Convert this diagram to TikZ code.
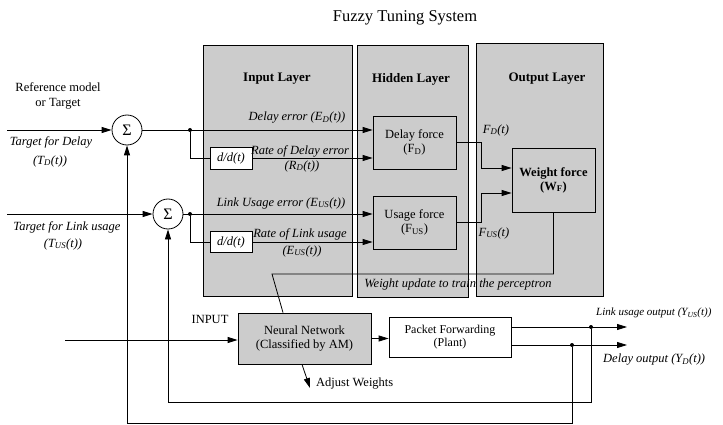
\documentclass[tikz,border=0pt]{standalone}
\usepackage{fontspec}
\setmainfont{Liberation Serif}
\usetikzlibrary{arrows.meta}
\begin{document}
\begin{tikzpicture}[x=1pt,y=-1pt,
  every node/.style={font=\fontsize{12.5}{14}\selectfont, inner sep=0pt},
  panel/.style={draw=black, line width=0.8pt, fill=black!20},
  fbox/.style={draw, line width=0.8pt, fill=black!20, align=center},
  wbox/.style={draw, line width=0.8pt, fill=white, align=center},
  sumn/.style={draw, circle, line width=0.8pt, fill=white, minimum size=30pt, font=\fontsize{16}{16}\selectfont},
  conn/.style={line width=0.8pt},
  arr/.style={line width=0.8pt, -{Triangle[length=10pt,width=6pt]}},
  lbl/.style={font=\fontsize{12.5}{14}\selectfont\itshape},
  ltitle/.style={font=\fontsize{13}{15}\selectfont\bfseries},
  dotn/.style={circle, fill=black, inner sep=0pt, minimum size=4pt},
]
\useasboundingbox (0,0) rectangle (723,425);

% title
\node[font=\fontsize{16.5}{18}\selectfont] (title) at (405,18) {Fuzzy Tuning System};

% panels
\node[panel, minimum width=149pt, minimum height=251pt] (pin) at (277.5,170.5) {};
\node[panel, minimum width=111pt, minimum height=252pt] (phid) at (412.5,171) {};
\node[panel, minimum width=127pt, minimum height=253pt] (pout) at (539.5,169.5) {};
\node[ltitle] (tin) at (277,79) {Input Layer};
\node[ltitle] (thid) at (411,79) {Hidden Layer};
\node[ltitle] (tout) at (547,79) {Output Layer};

% boxes
\node[fbox, minimum width=83pt, minimum height=53pt] (df) at (414.5,142.5) {Delay force\\(F\textsubscript{D})};
\node[fbox, minimum width=83pt, minimum height=53pt] (uf) at (414.5,222.5) {Usage force\\(F\textsubscript{US})};
\node[fbox, minimum width=83pt, minimum height=64pt, font=\fontsize{12.5}{14}\selectfont\bfseries] (wf) at (553.5,180) {Weight force\\(W\textsubscript{F})};
\node[fbox, minimum width=133pt, minimum height=51pt] (nn) at (304.5,338.5) {Neural Network\\(Classified by AM)};
\node[wbox, minimum width=122pt, minimum height=40pt, font=\fontsize{12}{13.5}\selectfont] (pf) at (450,337) {Packet Forwarding\\(Plant)};
\node[wbox, minimum width=42pt, minimum height=22pt, lbl] (dd1) at (231,158) {d/d(t)};
\node[wbox, minimum width=42pt, minimum height=21pt, lbl] (dd2) at (231,242) {d/d(t)};

% summing junctions
\node[sumn] (s1) at (127,130) {Σ};
\node[sumn] (s2) at (168,214) {Σ};

% left labels
\node (ref1) at (58,87) {Reference model};
\node (ref2) at (58,104) {or Target};
\node[lbl] (td1) at (51,142) {Target for Delay};
\node[lbl] (td2) at (50,161) {(T\textsubscript{D}(t))};
\node[lbl] (tu1) at (67,227) {Target for Link usage};
\node[lbl] (tu2) at (63,244) {(T\textsubscript{US}(t))};

% inputs to sums
\coordinate (in1) at (7,130);
\coordinate (in2) at (7,214);
\draw[arr] (in1) -- (s1.west);
\draw[arr] (in2) -- (s2.west);

% input layer connections
\node[dotn] (d1) at (190,130) {};
\node[dotn] (d2) at (190,214) {};
\draw[arr] (s1.east) -- (s1.east -| df.west);
\draw[conn] (d1) |- (dd1.west);
\draw[arr] (dd1.east) -- (dd1.east -| df.west);
\draw[arr] (s2.east) -- (s2.east -| uf.west);
\draw[conn] (d2) |- (dd2.west);
\draw[arr] (dd2.east) -- (dd2.east -| uf.west);

\node[lbl] (le1) at (297,118) {Delay error (E\textsubscript{D}(t))};
\node[lbl] (le2) at (300,151) {Rate of Delay error};
\node[lbl] (le3) at (302,166) {(R\textsubscript{D}(t))};
\node[lbl] (le4) at (281,203) {Link Usage error (E\textsubscript{US}(t))};
\node[lbl] (le5) at (300,234) {Rate of Link usage};
\node[lbl] (le6) at (302,251) {(E\textsubscript{US}(t))};

% hidden to output
\draw[arr] (df.east) -- ++(25,0) |- ([yshift=12pt]wf.west);
\draw[arr] (uf.east) -- ++(25,0) |- ([yshift=-13pt]wf.west);
\node[lbl] (lfd) at (496,130) {F\textsubscript{D}(t)};
\node[lbl] (lfu) at (494,233) {F\textsubscript{US}(t)};

% weight update
\coordinate (wu) at (272,274);
\draw[conn] (wf.south) |- (wu) -- ([xshift=-21.5pt]nn.north);
\node[lbl] (lwu) at (458,284) {Weight update to train the perceptron};

% lower part
\coordinate (inp0) at (65,340);
\draw[arr] (inp0) -- (inp0 -| nn.west);
\node (linp) at (210,319) {INPUT};
\draw[arr] (nn.east) -- (nn.east -| pf.west);
\coordinate (aw) at (310,388);
\draw[arr] ([xshift=-2.5pt]nn.south) -- (aw);
\node[anchor=west] (law) at (316,384) {Adjust Weights};

% outputs
\coordinate (o1) at (627,327);
\coordinate (o2) at (627,345);
\draw[arr] ([yshift=10pt]pf.east) -- (o1);
\draw[arr] ([yshift=-8pt]pf.east) -- (o2);
\node[dotn] (d3) at (591,327) {};
\node[dotn] (d4) at (572,345) {};
\node[lbl, anchor=west, font=\fontsize{11}{13}\selectfont\itshape] (lo1) at (596,313) {Link usage output (Y\textsubscript{US}(t))};
\node[lbl, anchor=west] (lo2) at (603,360) {Delay output (Y\textsubscript{D}(t))};

% feedback
\coordinate (f2) at (591,402);
\coordinate (f1) at (572,423);
\draw[arr] (d3) -- (f2) -| (s2.south);
\draw[arr] (d4) -- (f1) -| (s1.south);
\end{tikzpicture}
\end{document}
